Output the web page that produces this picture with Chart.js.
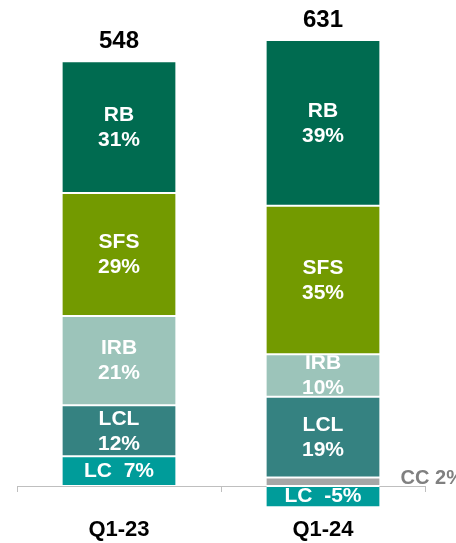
<!DOCTYPE html>
<html>
<head>
<meta charset="utf-8">
<script src="https://cdn.jsdelivr.net/npm/chart.js@4"></script>
<style>
  html, body { margin: 0; padding: 0; background: #fff; }
  #wrap { width: 456px; height: 543px; }
</style>
</head>
<body>
<div id="wrap"><canvas id="mix-chart"></canvas></div>
<script>
// shares of total (%) per segment, bottom to top of each stack
const categories = ['Q1-23', 'Q1-24'];
const totals = [548, 631];
const lcShare = [7, -5];
const ccShare = [null, 2];
const lclShare = [12, 19];
const irbShare = [21, 10];
const sfsShare = [29, 35];
const rbShare = [31, 39];

const FONT = '"Liberation Sans", Arial, sans-serif';

const segments = [
  { label: 'LC', data: lcShare, color: '#009C9A', inline: true },
  { label: 'CC', data: ccShare, color: '#A6A6A6', outside: true },
  { label: 'LCL', data: lclShare, color: '#358281' },
  { label: 'IRB', data: irbShare, color: '#9CC4BA' },
  { label: 'SFS', data: sfsShare, color: '#739A00' },
  { label: 'RB', data: rbShare, color: '#006B50' }
];

const labelPlugin = {
  id: 'segmentLabels',
  afterDatasetsDraw(chart) {
    const ctx = chart.ctx;
    chart.data.datasets.forEach((ds, di) => {
      const meta = chart.getDatasetMeta(di);
      const seg = segments[di];
      meta.data.forEach((bar, i) => {
        const v = ds.data[i];
        if (v === null || v === undefined) return;
        const top = Math.min(bar.y, bar.base);
        const bottom = Math.max(bar.y, bar.base);
        const cy = (top + bottom) / 2;
        const txt = v + '%';
        ctx.save();
        if (seg.outside) {
          ctx.font = 'bold 20px ' + FONT;
          ctx.fillStyle = '#808080';
          ctx.textAlign = 'left';
          ctx.textBaseline = 'middle';
          ctx.fillText(seg.label + ' ' + txt, bar.x + bar.width / 2 + 21, cy - 3);
          ctx.restore();
          return;
        }
        ctx.beginPath();
        ctx.rect(bar.x - bar.width / 2, top + 1, bar.width, bottom - top - 2);
        ctx.clip();
        ctx.font = 'bold 21px ' + FONT;
        ctx.fillStyle = '#fff';
        ctx.textAlign = 'center';
        ctx.textBaseline = 'middle';
        if (seg.inline) {
          ctx.fillText(seg.label + '  ' + txt, bar.x, cy);
        } else {
          ctx.fillText(seg.label, bar.x, cy - 12);
          ctx.fillText(txt, bar.x, cy + 13);
        }
        ctx.restore();
      });
    });
    // totals above the stacks
    const topMeta = chart.getDatasetMeta(chart.data.datasets.length - 1);
    topMeta.data.forEach((bar, i) => {
      ctx.save();
      ctx.font = 'bold 24px ' + FONT;
      ctx.fillStyle = '#000';
      ctx.textAlign = 'center';
      ctx.textBaseline = 'middle';
      ctx.fillText(String(totals[i]), bar.x, bar.y - 20);
      ctx.restore();
    });
  }
};

new Chart(document.getElementById('mix-chart'), {
  type: 'bar',
  data: {
    labels: categories,
    datasets: segments.map(s => ({
      label: s.label,
      data: s.data,
      backgroundColor: s.color,
      borderColor: '#fff',
      borderWidth: { top: 1, bottom: 1, left: 0, right: 0 },
      borderSkipped: false,
      categoryPercentage: 1,
      barPercentage: 0.555,
      clip: false
    }))
  },
  options: {
    responsive: true,
    maintainAspectRatio: false,
    animation: false,
    layout: { padding: { top: 40, left: 17, right: 31, bottom: 0 } },
    plugins: {
      legend: { display: false },
      tooltip: { enabled: false }
    },
    scales: {
      x: {
        stacked: true,
        z: 1,
        afterFit(scale) { scale.height = 57; },
        grid: {
          offset: true,
          drawOnChartArea: false,
          color: '#BFBFBF',
          tickLength: 6
        },
        border: { color: '#BFBFBF', width: 1 },
        ticks: {
          color: '#000',
          padding: 25,
          font: { family: FONT, size: 22, weight: 'bold' }
        }
      },
      y: {
        stacked: true,
        display: false,
        min: 0,
        max: 105
      }
    }
  },
  plugins: [labelPlugin]
});
</script>
</body>
</html>
